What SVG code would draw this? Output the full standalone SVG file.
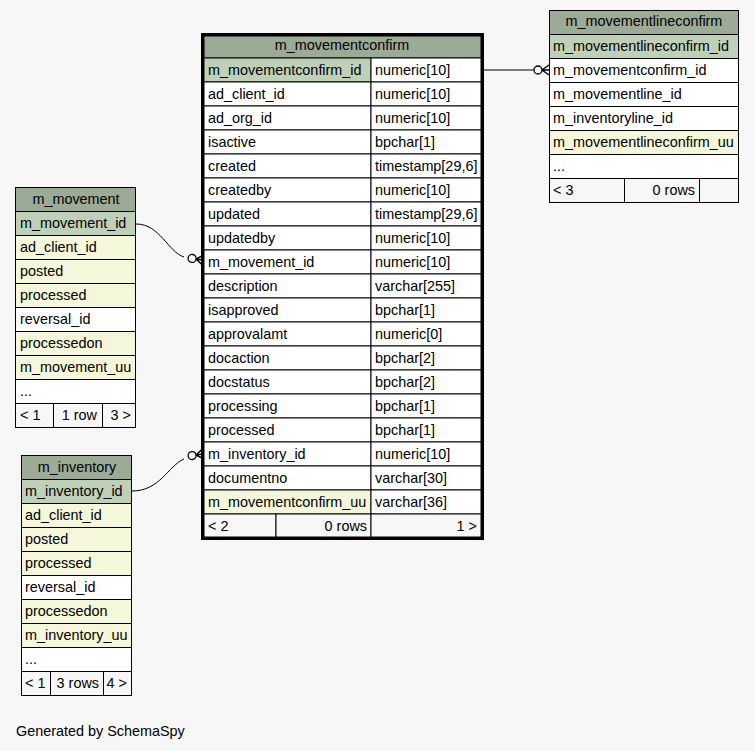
<svg xmlns="http://www.w3.org/2000/svg" width="755" height="751" viewBox="0 0 755 751">
<style>
text{font-family:"Liberation Sans",Arial,sans-serif;font-size:14.4px;fill:#000}
.t{text-anchor:middle}
.r{text-anchor:end}
.hd{fill:#9bab96;stroke:#000;stroke-width:1}
.pk{fill:#bed1b8;stroke:#000;stroke-width:1}
.ix{fill:#f4f7da;stroke:#000;stroke-width:1}
.pl{fill:#ffffff;stroke:#000;stroke-width:1}
.ft{fill:#f7f7f7;stroke:#000;stroke-width:1}
.ob{fill:none;stroke:#000;stroke-width:1}
.obt{fill:none;stroke:#000;stroke-width:3}
.ln{fill:none;stroke:#000;stroke-width:1}
</style>
<defs>
<g id="crow"><circle cx="-11" cy="0" r="4" fill="none" stroke="#000" stroke-width="1.3"/><path d="M-7,0 L0,-5 M-7,0 L0,0 M-7,0 L0,5" fill="none" stroke="#000" stroke-width="1.5"/></g>
</defs>
<rect x="0" y="0" width="755" height="751" fill="#f7f7f7"/>

<g id="connectors">
<path class="ln" d="M483,70 L534,70"/>
<use href="#crow" x="549" y="70"/>
<path class="ln" d="M136,224 C160,224 168,252 184,257"/>
<use href="#crow" x="203" y="260" transform="rotate(8 203 260)"/>
<path class="ln" d="M132,491 C160,491 168,466 184,459"/>
<use href="#crow" x="203" y="454" transform="rotate(-8 203 454)"/>
</g>

<g id="m_movementconfirm">
<rect class="hd" x="204" y="36" width="277" height="22"/>
<text class="t" x="342" y="50">m_movementconfirm</text>
<rect class="pk" x="204" y="58" width="167" height="24"/><rect class="pl" x="371" y="58" width="110" height="24"/>
<text x="208" y="75">m_movementconfirm_id</text><text x="375" y="75">numeric[10]</text>
<rect class="pl" x="204" y="82" width="167" height="24"/><rect class="pl" x="371" y="82" width="110" height="24"/>
<text x="208" y="99">ad_client_id</text><text x="375" y="99">numeric[10]</text>
<rect class="pl" x="204" y="106" width="167" height="24"/><rect class="pl" x="371" y="106" width="110" height="24"/>
<text x="208" y="123">ad_org_id</text><text x="375" y="123">numeric[10]</text>
<rect class="pl" x="204" y="130" width="167" height="24"/><rect class="pl" x="371" y="130" width="110" height="24"/>
<text x="208" y="147">isactive</text><text x="375" y="147">bpchar[1]</text>
<rect class="pl" x="204" y="154" width="167" height="24"/><rect class="pl" x="371" y="154" width="110" height="24"/>
<text x="208" y="171">created</text><text x="375" y="171">timestamp[29,6]</text>
<rect class="pl" x="204" y="178" width="167" height="24"/><rect class="pl" x="371" y="178" width="110" height="24"/>
<text x="208" y="195">createdby</text><text x="375" y="195">numeric[10]</text>
<rect class="pl" x="204" y="202" width="167" height="24"/><rect class="pl" x="371" y="202" width="110" height="24"/>
<text x="208" y="219">updated</text><text x="375" y="219">timestamp[29,6]</text>
<rect class="pl" x="204" y="226" width="167" height="24"/><rect class="pl" x="371" y="226" width="110" height="24"/>
<text x="208" y="243">updatedby</text><text x="375" y="243">numeric[10]</text>
<rect class="pl" x="204" y="250" width="167" height="24"/><rect class="pl" x="371" y="250" width="110" height="24"/>
<text x="208" y="267">m_movement_id</text><text x="375" y="267">numeric[10]</text>
<rect class="pl" x="204" y="274" width="167" height="24"/><rect class="pl" x="371" y="274" width="110" height="24"/>
<text x="208" y="291">description</text><text x="375" y="291">varchar[255]</text>
<rect class="pl" x="204" y="298" width="167" height="24"/><rect class="pl" x="371" y="298" width="110" height="24"/>
<text x="208" y="315">isapproved</text><text x="375" y="315">bpchar[1]</text>
<rect class="pl" x="204" y="322" width="167" height="24"/><rect class="pl" x="371" y="322" width="110" height="24"/>
<text x="208" y="339">approvalamt</text><text x="375" y="339">numeric[0]</text>
<rect class="pl" x="204" y="346" width="167" height="24"/><rect class="pl" x="371" y="346" width="110" height="24"/>
<text x="208" y="363">docaction</text><text x="375" y="363">bpchar[2]</text>
<rect class="pl" x="204" y="370" width="167" height="24"/><rect class="pl" x="371" y="370" width="110" height="24"/>
<text x="208" y="387">docstatus</text><text x="375" y="387">bpchar[2]</text>
<rect class="pl" x="204" y="394" width="167" height="24"/><rect class="pl" x="371" y="394" width="110" height="24"/>
<text x="208" y="411">processing</text><text x="375" y="411">bpchar[1]</text>
<rect class="pl" x="204" y="418" width="167" height="24"/><rect class="pl" x="371" y="418" width="110" height="24"/>
<text x="208" y="435">processed</text><text x="375" y="435">bpchar[1]</text>
<rect class="pl" x="204" y="442" width="167" height="24"/><rect class="pl" x="371" y="442" width="110" height="24"/>
<text x="208" y="459">m_inventory_id</text><text x="375" y="459">numeric[10]</text>
<rect class="pl" x="204" y="466" width="167" height="24"/><rect class="pl" x="371" y="466" width="110" height="24"/>
<text x="208" y="483">documentno</text><text x="375" y="483">varchar[30]</text>
<rect class="ix" x="204" y="490" width="167" height="24"/><rect class="pl" x="371" y="490" width="110" height="24"/>
<text x="208" y="507">m_movementconfirm_uu</text><text x="375" y="507">varchar[36]</text>
<rect class="ft" x="204" y="514" width="72" height="23"/><rect class="ft" x="276" y="514" width="95" height="23"/><rect class="ft" x="371" y="514" width="110" height="23"/>
<text x="208" y="531">&lt; 2</text><text class="r" x="367" y="531">0 rows</text><text class="r" x="477" y="531">1 &gt;</text>
<rect class="obt" x="202.5" y="34.5" width="280" height="504"/>
</g>

<g id="m_movementlineconfirm">
<rect class="hd" x="549.5" y="10.5" width="189" height="24"/>
<text class="t" x="644" y="26">m_movementlineconfirm</text>
<rect class="pk" x="549.5" y="34.5" width="189" height="24"/><text x="553" y="51">m_movementlineconfirm_id</text>
<rect class="pl" x="549.5" y="58.5" width="189" height="24"/><text x="553" y="75">m_movementconfirm_id</text>
<rect class="pl" x="549.5" y="82.5" width="189" height="24"/><text x="553" y="99">m_movementline_id</text>
<rect class="pl" x="549.5" y="106.5" width="189" height="24"/><text x="553" y="123">m_inventoryline_id</text>
<rect class="ix" x="549.5" y="130.5" width="189" height="24"/><text x="553" y="147">m_movementlineconfirm_uu</text>
<rect class="pl" x="549.5" y="154.5" width="189" height="24"/><text x="553" y="171">...</text>
<rect class="ft" x="549.5" y="178.5" width="75" height="24"/><rect class="ft" x="624.5" y="178.5" width="75" height="24"/><rect class="ft" x="699.5" y="178.5" width="39" height="24"/>
<text x="553" y="195">&lt; 3</text><text class="r" x="695" y="195">0 rows</text>
</g>

<g id="m_movement">
<rect class="hd" x="15.5" y="187.5" width="120" height="24"/>
<text class="t" x="76" y="204">m_movement</text>
<rect class="pk" x="15.5" y="211.5" width="120" height="24"/><text x="20" y="228">m_movement_id</text>
<rect class="ix" x="15.5" y="235.5" width="120" height="24"/><text x="20" y="252">ad_client_id</text>
<rect class="ix" x="15.5" y="259.5" width="120" height="24"/><text x="20" y="276">posted</text>
<rect class="ix" x="15.5" y="283.5" width="120" height="24"/><text x="20" y="300">processed</text>
<rect class="pl" x="15.5" y="307.5" width="120" height="24"/><text x="20" y="324">reversal_id</text>
<rect class="ix" x="15.5" y="331.5" width="120" height="24"/><text x="20" y="348">processedon</text>
<rect class="ix" x="15.5" y="355.5" width="120" height="24"/><text x="20" y="372">m_movement_uu</text>
<rect class="pl" x="15.5" y="379.5" width="120" height="24"/><text x="20" y="396">...</text>
<rect class="ft" x="15.5" y="403.5" width="38" height="24"/><rect class="ft" x="53.5" y="403.5" width="49" height="24"/><rect class="ft" x="102.5" y="403.5" width="33" height="24"/>
<text x="20" y="420">&lt; 1</text><text class="r" x="97" y="420">1 row</text><text class="r" x="131" y="420">3 &gt;</text>
</g>

<g id="m_inventory">
<rect class="hd" x="21.5" y="455.5" width="110" height="24"/>
<text class="t" x="77" y="472">m_inventory</text>
<rect class="pk" x="21.5" y="479.5" width="110" height="24"/><text x="25" y="496">m_inventory_id</text>
<rect class="ix" x="21.5" y="503.5" width="110" height="24"/><text x="25" y="520">ad_client_id</text>
<rect class="ix" x="21.5" y="527.5" width="110" height="24"/><text x="25" y="544">posted</text>
<rect class="ix" x="21.5" y="551.5" width="110" height="24"/><text x="25" y="568">processed</text>
<rect class="pl" x="21.5" y="575.5" width="110" height="24"/><text x="25" y="592">reversal_id</text>
<rect class="ix" x="21.5" y="599.5" width="110" height="24"/><text x="25" y="616">processedon</text>
<rect class="ix" x="21.5" y="623.5" width="110" height="24"/><text x="25" y="640">m_inventory_uu</text>
<rect class="pl" x="21.5" y="647.5" width="110" height="24"/><text x="25" y="664">...</text>
<rect class="ft" x="21.5" y="671.5" width="29" height="24"/><rect class="ft" x="50.5" y="671.5" width="53" height="24"/><rect class="ft" x="103.5" y="671.5" width="28" height="24"/>
<text x="25" y="688">&lt; 1</text><text class="r" x="99" y="688">3 rows</text><text class="r" x="127" y="688">4 &gt;</text>
</g>

<text x="16" y="736">Generated by SchemaSpy</text>
</svg>
